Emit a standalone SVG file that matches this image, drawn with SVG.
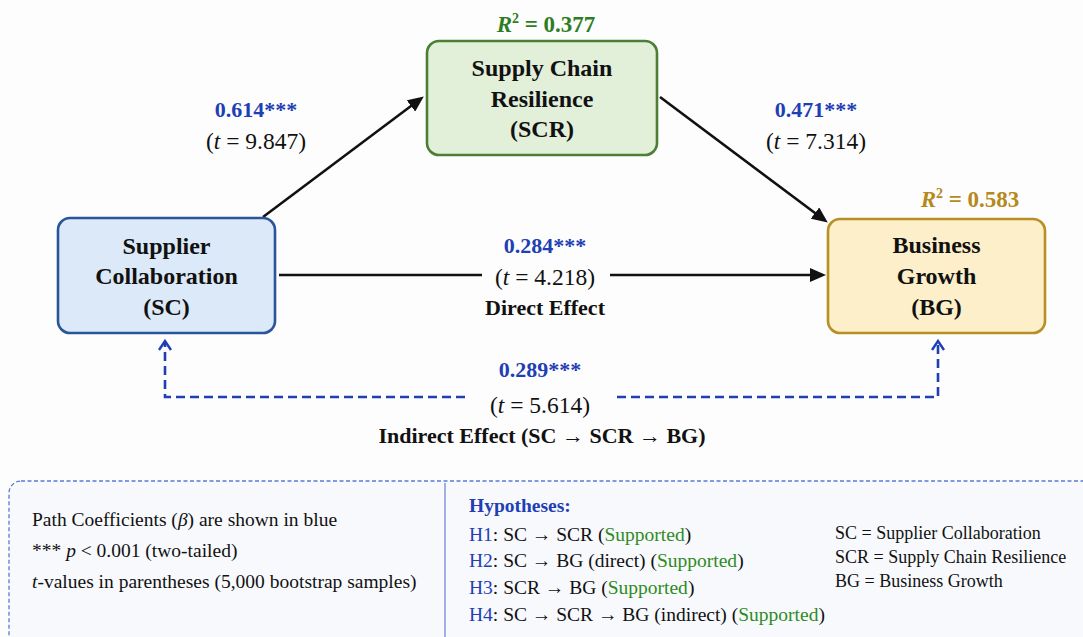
<svg xmlns="http://www.w3.org/2000/svg" width="1083" height="637" viewBox="0 0 1083 637">
<defs>
<style>
text{font-family:"Liberation Serif","Times New Roman",serif;fill:#111}
.node{font-size:24px;font-weight:bold;text-anchor:middle}
.coef{font-size:22px;font-weight:bold;fill:#1f3fb4;text-anchor:middle}
.tval{font-size:23.5px;text-anchor:middle}
.lab{font-size:22px;font-weight:bold;text-anchor:middle}
.r2{font-size:23px;font-weight:bold;text-anchor:middle}
.leg{font-size:19.5px}
.leg2{font-size:18px}
.blue{fill:#1f3fb4}
.green{fill:#2e8b22}
.conn{stroke:#111;stroke-width:2.6;fill:none}
.dash{stroke:#1f3fb4;stroke-width:2.6;fill:none;stroke-dasharray:9 5}
</style>
<marker id="ah" markerUnits="userSpaceOnUse" markerWidth="16" markerHeight="14" viewBox="0 0 16 14" refX="5" refY="7" orient="auto">
<path d="M0,0 L16,7 L0,14 z" fill="#111"/>
</marker>
<marker id="ob" markerUnits="userSpaceOnUse" markerWidth="12" markerHeight="14" viewBox="0 0 12 14" refX="10" refY="7" orient="auto">
<path d="M1,1 L10,7 L1,13" fill="none" stroke="#1f3fb4" stroke-width="2.4"/>
</marker>
</defs>
<rect x="0" y="0" width="1083" height="637" fill="#fdfdfd"/>

<g id="connectors">
<line class="conn" x1="263" y1="217" x2="415" y2="103" marker-end="url(#ah)"/>
<line class="conn" x1="660" y1="97" x2="819" y2="216" marker-end="url(#ah)"/>
<line class="conn" x1="279" y1="275" x2="482" y2="275"/>
<line class="conn" x1="610" y1="275" x2="815" y2="275" marker-end="url(#ah)"/>
<polyline class="dash" points="465,397 165,397 165,341" marker-end="url(#ob)"/>
<polyline class="dash" points="617,397 938,397 938,341" marker-end="url(#ob)"/>
<text class="coef" x="256" y="117">0.614***</text>
<text class="tval" x="256" y="149">(<tspan font-style="italic">t</tspan> = 9.847)</text>
<text class="coef" x="816" y="117">0.471***</text>
<text class="tval" x="816" y="149">(<tspan font-style="italic">t</tspan> = 7.314)</text>
<text class="coef" x="545" y="253">0.284***</text>
<text class="tval" x="545" y="285">(<tspan font-style="italic">t</tspan> = 4.218)</text>
<text class="lab" x="545" y="315">Direct Effect</text>
<text class="coef" x="540" y="377">0.289***</text>
<text class="tval" x="540" y="413">(<tspan font-style="italic">t</tspan> = 5.614)</text>
<text class="lab" x="542" y="443">Indirect Effect (SC → SCR → BG)</text>
</g>

<g id="node-sc">
<rect x="58" y="218" width="217" height="115" rx="12" fill="#dce9f8" stroke="#2a5699" stroke-width="2.6"/>
<text class="node" x="166.5" y="254">Supplier</text>
<text class="node" x="166.5" y="284">Collaboration</text>
<text class="node" x="166.5" y="315">(SC)</text>
</g>

<g id="node-scr">
<rect x="427" y="41" width="230" height="114" rx="12" fill="#e2efd9" stroke="#4b7f36" stroke-width="2.6"/>
<text class="node" x="542" y="76">Supply Chain</text>
<text class="node" x="542" y="107">Resilience</text>
<text class="node" x="542" y="137">(SCR)</text>
<text class="r2" x="546" y="32" style="fill:#2e7d22"><tspan font-style="italic">R</tspan><tspan dy="-9" font-size="14">2</tspan><tspan dy="9"> = 0.377</tspan></text>
</g>

<g id="node-bg">
<rect x="828" y="219" width="217" height="114" rx="12" fill="#fcefc9" stroke="#b88f22" stroke-width="2.6"/>
<text class="node" x="936.5" y="253">Business</text>
<text class="node" x="936.5" y="284">Growth</text>
<text class="node" x="936.5" y="315">(BG)</text>
<text class="r2" x="970" y="207" style="fill:#b5891a"><tspan font-style="italic">R</tspan><tspan dy="-9" font-size="14">2</tspan><tspan dy="9"> = 0.583</tspan></text>
</g>

<g id="legend">
<rect x="9" y="481" width="1100" height="200" rx="12" fill="#f8f9fd" stroke="#5a7ad4" stroke-width="1.3" stroke-dasharray="4 2.5"/>
<line x1="445" y1="483" x2="445" y2="637" stroke="#6f8bd8" stroke-width="1.3"/>
<text class="leg" x="32" y="526">Path Coefficients (<tspan font-style="italic">β</tspan>) are shown in blue</text>
<text class="leg" x="32" y="557">*** <tspan font-style="italic">p</tspan> &lt; 0.001 (two-tailed)</text>
<text class="leg" x="32" y="588"><tspan font-style="italic">t</tspan>-values in parentheses (5,000 bootstrap samples)</text>
<text class="leg blue" x="469" y="512" font-weight="bold">Hypotheses:</text>
<text class="leg" x="469" y="541"><tspan class="blue">H1</tspan>: SC → SCR (<tspan class="green">Supported</tspan>)</text>
<text class="leg" x="469" y="567"><tspan class="blue">H2</tspan>: SC → BG (direct) (<tspan class="green">Supported</tspan>)</text>
<text class="leg" x="469" y="594"><tspan class="blue">H3</tspan>: SCR → BG (<tspan class="green">Supported</tspan>)</text>
<text class="leg" x="469" y="621"><tspan class="blue">H4</tspan>: SC → SCR → BG (indirect) (<tspan class="green">Supported</tspan>)</text>
<text class="leg2" x="835" y="539">SC = Supplier Collaboration</text>
<text class="leg2" x="835" y="563">SCR = Supply Chain Resilience</text>
<text class="leg2" x="835" y="587">BG = Business Growth</text>
</g>
</svg>
